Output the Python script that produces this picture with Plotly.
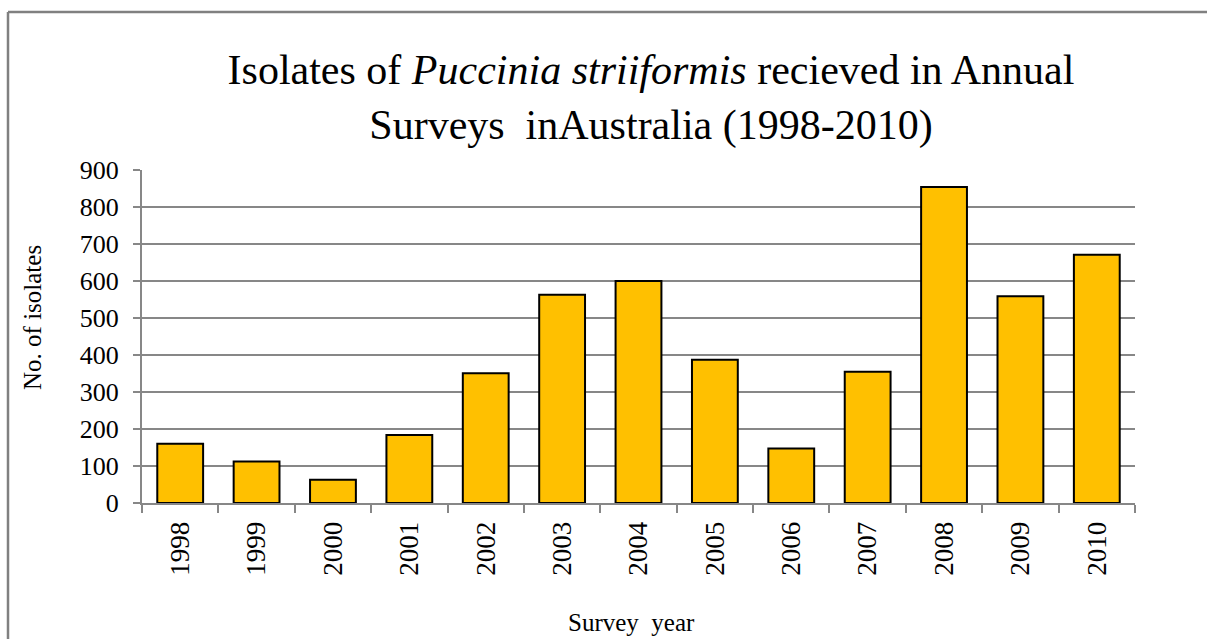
import plotly.graph_objects as go

# Survey years and number of isolates received each year
years = ["1998", "1999", "2000", "2001", "2002", "2003", "2004",
         "2005", "2006", "2007", "2008", "2009", "2010"]
isolates = [160, 112, 63, 184, 351, 563, 600, 387, 147, 355, 854, 559, 671]

y_ticks = [0, 100, 200, 300, 400, 500, 600, 700, 800, 900]

W, H = 1207, 639
ML, MR, MT, MB = 142, 72, 170, 136
PW, PH = W - ML - MR, H - MT - MB

serif = "Liberation Serif"
grey = "#878787"

fig = go.Figure(
    go.Bar(
        x=years,
        y=isolates,
        marker=dict(color="#FFC000", line=dict(color="#000000", width=2)),
    )
)

def px_to_paper_x(px):
    return (px - ML) / PW

def px_to_paper_y(py):
    return (H - MB - py) / PH

frame = dict(color="#808080", width=2.5)

fig.update_layout(
    width=W,
    height=H,
    margin=dict(l=ML, r=MR, t=MT, b=MB),
    paper_bgcolor="white",
    plot_bgcolor="white",
    bargap=0.4,
    showlegend=False,
    font=dict(family=serif, color="#000000"),
    title=dict(
        text="Isolates of <i>Puccinia striiformis</i> recieved in Annual<br>Surveys\u00a0 inAustralia (1998-2010)",
        font=dict(family=serif, size=42, color="#000000"),
        x=651 / W,
        xref="container",
        xanchor="center",
        y=1 - 84 / H,
        yref="container",
        yanchor="middle",
    ),
    xaxis=dict(
        type="category",
        tickangle=-90,
        tickfont=dict(family=serif, size=27),
        showline=True,
        linecolor=grey,
        linewidth=2,
        ticks="outside",
        tickson="boundaries",
        ticklen=8,
        tickwidth=2,
        tickcolor=grey,
        showgrid=False,
        ticklabelstandoff=6,
    ),
    yaxis=dict(
        range=[0, 900],
        tickvals=y_ticks,
        tickfont=dict(family=serif, size=26),
        showline=True,
        linecolor=grey,
        linewidth=2,
        ticks="outside",
        ticklen=7,
        tickwidth=2,
        tickcolor=grey,
        showgrid=True,
        gridcolor=grey,
        gridwidth=2,
        zeroline=False,
        ticklabelstandoff=9,
    ),
    shapes=[
        # outer chart frame: top and left edges
        dict(type="line", xref="paper", yref="paper",
             x0=px_to_paper_x(8), x1=px_to_paper_x(W),
             y0=px_to_paper_y(12), y1=px_to_paper_y(12),
             line=frame, layer="below"),
        dict(type="line", xref="paper", yref="paper",
             x0=px_to_paper_x(8), x1=px_to_paper_x(8),
             y0=px_to_paper_y(12), y1=px_to_paper_y(H),
             line=frame, layer="below"),
    ],
    annotations=[
        dict(
            text="No. of isolates",
            xref="paper",
            yref="paper",
            x=px_to_paper_x(32),
            y=px_to_paper_y(318),
            xanchor="center",
            yanchor="middle",
            textangle=-90,
            showarrow=False,
            font=dict(family=serif, size=25),
        ),
        dict(
            text="Survey\u00a0 year",
            xref="paper",
            yref="paper",
            x=px_to_paper_x(631),
            y=px_to_paper_y(622),
            xanchor="center",
            yanchor="middle",
            showarrow=False,
            font=dict(family=serif, size=25),
        ),
    ],
)

fig.write_html("out.html")
